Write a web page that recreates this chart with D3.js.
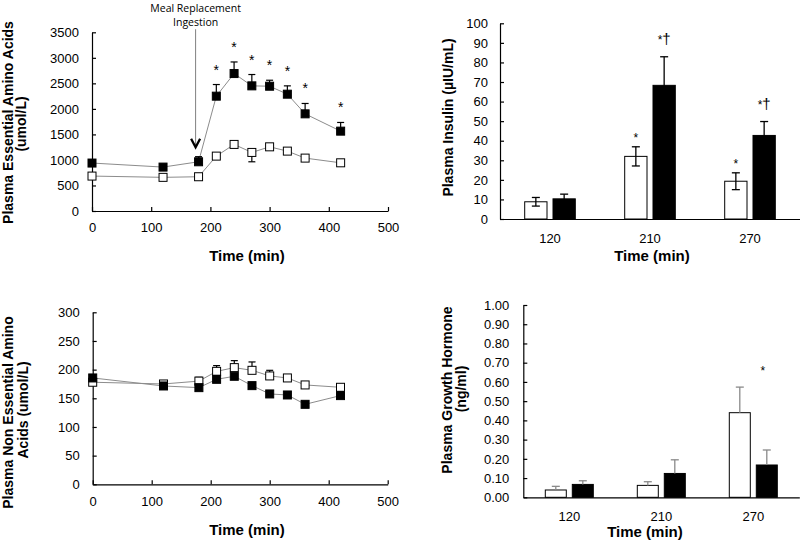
<!DOCTYPE html>
<html>
<head>
<meta charset="utf-8">
<script src="https://cdn.jsdelivr.net/npm/d3@7"></script>
<style>
  body { margin: 0; background: #fff; }
  svg text { font-family: "Liberation Sans", Arial, sans-serif; fill: #000; }
</style>
</head>
<body>
<svg id="chart" width="800" height="542"></svg>
<script>
// ---- data ----
const timePoints = [0, 120, 180, 210, 240, 270, 300, 330, 360, 420];
const timeTicks = [0, 100, 200, 300, 400, 500];

// essential amino acids (umol/L)
const eaaOpen = [684, 659, 671, 1075, 1304, 1147, 1257, 1173, 1036, 944];
const eaaOpenErr = [40, 40, 40, 50, 50, 183, 50, 40, 40, 40];
const eaaFilled = [939, 860, 964, 2249, 2692, 2451, 2444, 2288, 1903, 1564];
const eaaFilledErr = [60, 50, 100, 228, 227, 222, 117, 163, 203, 170];
const eaaSig = ['', '', '', '*', '*', '*', '*', '*', '*', '*'];
const eaaTicks = [0, 500, 1000, 1500, 2000, 2500, 3000, 3500];

// meal replacement arrow (time, value at tip, value at top)
const mealTime = 175;
const mealTip = 1250;
const mealTop = 3560;
const mealText = ['Meal Replacement', 'Ingestion'];

// non essential amino acids (umol/L)
const neaaOpen = [178, 175, 180, 197, 203.5, 198.8, 189, 185.5, 173.3, 169.2];
const neaaOpenErr = [3, 4, 6.6, 10, 12.2, 14.6, 9.8, 5, 4, 4];
const neaaFilled = [185.5, 171.5, 168.6, 183.1, 188.4, 172.1, 157.6, 155.8, 139.5, 154.7];
const neaaTicks = [0, 50, 100, 150, 200, 250, 300];

// bar panels
const barTimes = ['120', '210', '270'];
const insulinOpen = [8.8, 32.0, 19.3];
const insulinOpenErr = [2.2, 4.9, 4.3];
const insulinFilled = [10.3, 68.3, 42.7];
const insulinFilledErr = [2.4, 14.6, 7.1];
const insulinOpenSig = ['', '*', '*'];
const insulinFilledSig = ['', '*†', '*†'];
const insulinTicks = d3.range(0, 101, 10);

const ghOpen = [0.038, 0.062, 0.44];
const ghOpenErr = [0.019, 0.019, 0.133];
const ghFilled = [0.067, 0.124, 0.168];
const ghFilledErr = [0.019, 0.071, 0.078];
const ghSig = ['', '', '*'];
const ghTicks = d3.range(0, 1.001, 0.1);

const svg = d3.select('#chart');

const styleAxis = (sel) => {
  sel.attr('font-size', 13).attr('font-family', '"Liberation Sans", Arial, sans-serif');
  sel.select('.domain').attr('stroke', '#000').attr('stroke-width', 1.2);
  sel.selectAll('.tick line').attr('stroke', '#000').attr('stroke-width', 1.2);
  sel.selectAll('.tick text').attr('font-size', 13).attr('fill', '#000');
};

const xTitle = (text, cx, baseline) => {
  svg.append('text').attr('x', cx).attr('y', baseline).attr('text-anchor', 'middle')
    .attr('font-size', 15).attr('font-weight', 'bold').text(text);
};

const yTitle = (lines, baselines, centers) => {
  lines.forEach((t, i) => {
    svg.append('text')
      .attr('transform', `translate(${baselines[i]},${centers[i]}) rotate(-90)`)
      .attr('text-anchor', 'middle').attr('font-size', 14).attr('font-weight', 'bold')
      .text(t);
  });
};

const drawLinePanel = (o) => {
  const x = d3.scaleLinear().domain([0, 500]).range([o.left, o.right]);
  const y = d3.scaleLinear().domain([0, o.yMax]).range([o.bottom, o.top]);
  const g = svg.append('g');

  g.append('g').attr('transform', `translate(0,${o.bottom})`)
    .call(d3.axisBottom(x).tickValues(timeTicks).tickFormat(d3.format('d'))
      .tickSizeInner(-4).tickSizeOuter(0).tickPadding(12))
    .call(styleAxis);
  g.append('g').attr('transform', `translate(${o.left},0)`)
    .call(d3.axisLeft(y).tickValues(o.ticks).tickFormat(d3.format('d'))
      .tickSizeInner(-4).tickSizeOuter(0).tickPadding(13))
    .call(styleAxis);

  const line = d3.line().x((d, i) => x(timePoints[i])).y(d => y(d));
  const ms = 8;
  const cap = 3.5;

  for (const s of o.series) {
    g.append('path').datum(s.values).attr('fill', 'none')
      .attr('stroke', '#8c8c8c').attr('stroke-width', 1).attr('d', line);
  }
  for (const s of o.series) {
    if (s.err) {
      s.values.forEach((v, i) => {
        const end = s.dir === 'up' ? v + s.err[i] : v - s.err[i];
        const cx = x(timePoints[i]);
        g.append('line').attr('x1', cx).attr('x2', cx).attr('y1', y(v)).attr('y2', y(end))
          .attr('stroke', '#000').attr('stroke-width', 1.2);
        g.append('line').attr('x1', cx - cap).attr('x2', cx + cap).attr('y1', y(end)).attr('y2', y(end))
          .attr('stroke', '#000').attr('stroke-width', 1.2);
      });
    }
    g.selectAll(null).data(s.values).join('rect')
      .attr('x', (d, i) => x(timePoints[i]) - ms / 2)
      .attr('y', d => y(d) - ms / 2)
      .attr('width', ms).attr('height', ms)
      .attr('fill', s.fill).attr('stroke', '#000').attr('stroke-width', 1);
    if (s.sig) {
      s.values.forEach((v, i) => {
        if (!s.sig[i]) return;
        g.append('text').attr('x', x(timePoints[i])).attr('y', y(v + s.err[i]) - 10)
          .attr('text-anchor', 'middle').attr('font-size', 14).attr('fill', '#000').text(s.sig[i]);
      });
    }
  }
  return { x, y };
};

const drawBarPanel = (o) => {
  const x = d3.scaleBand().domain(barTimes).range([o.left, o.right]);
  const y = d3.scaleLinear().domain([0, o.yMax]).range([o.bottom, o.top]);
  const g = svg.append('g');
  const bw = o.barWidth;
  const gap = 6;
  const cap = 4;
  const series = [
    { values: o.open, err: o.openErr, fill: '#fff', sig: o.openSig, dx: -gap / 2 - bw },
    { values: o.filled, err: o.filledErr, fill: '#000', sig: o.filledSig, dx: gap / 2 },
  ];

  for (const s of series) {
    s.values.forEach((v, i) => {
      const bx = x(barTimes[i]) + x.bandwidth() / 2 + s.dx;
      const cx = bx + bw / 2;
      g.append('rect').attr('x', bx).attr('y', y(v)).attr('width', bw).attr('height', y(0) - y(v))
        .attr('fill', s.fill).attr('stroke', '#000').attr('stroke-width', 1);
      const top = v + s.err[i];
      const low = o.bothWays ? v - s.err[i] : v;
      g.append('line').attr('x1', cx).attr('x2', cx).attr('y1', y(low)).attr('y2', y(top))
        .attr('stroke', o.errColor).attr('stroke-width', 1.3);
      g.append('line').attr('x1', cx - cap).attr('x2', cx + cap).attr('y1', y(top)).attr('y2', y(top))
        .attr('stroke', o.errColor).attr('stroke-width', 1.3);
      if (o.bothWays) {
        g.append('line').attr('x1', cx - cap).attr('x2', cx + cap).attr('y1', y(low)).attr('y2', y(low))
          .attr('stroke', o.errColor).attr('stroke-width', 1.3);
      }
      const lab = s.sig ? s.sig[i] : '';
      if (lab) {
        let base;
        let lx = cx;
        if (o.groupSig) {
          base = y(Math.max(o.open[i] + o.openErr[i], o.filled[i] + o.filledErr[i])) - 12.5;
          lx = cx - 4;
        } else {
          base = y(top) - (lab.length > 1 ? 12.5 : 5);
        }
        const t = g.append('text').attr('x', lx).attr('y', base).attr('text-anchor', 'middle').attr('fill', '#000');
        t.append('tspan').attr('font-size', 12).attr('fill', '#000').text(lab[0]);
        if (lab.length > 1) t.append('tspan').attr('font-size', 15).attr('fill', '#000').text(lab.slice(1));
      }
    });
  }

  g.append('g').attr('transform', `translate(0,${o.bottom})`)
    .call(d3.axisBottom(x).tickSize(0).tickPadding(o.xPad))
    .call(styleAxis);
  g.append('g').attr('transform', `translate(${o.left},0)`)
    .call(d3.axisLeft(y).tickValues(o.ticks).tickFormat(o.fmt).tickSizeInner(-4).tickSizeOuter(0).tickPadding(o.yPad))
    .call(styleAxis);
};

// ---- top left: essential amino acids ----
const eaa = drawLinePanel({
  left: 92, right: 388, top: 32.3, bottom: 211, yMax: 3500, ticks: eaaTicks,
  series: [
    { values: eaaOpen, err: eaaOpenErr, dir: 'down', fill: '#fff' },
    { values: eaaFilled, err: eaaFilledErr, dir: 'up', fill: '#000', sig: eaaSig },
  ],
});
// meal replacement arrow
svg.append('line')
  .attr('x1', eaa.x(mealTime)).attr('x2', eaa.x(mealTime))
  .attr('y1', eaa.y(mealTop)).attr('y2', eaa.y(mealTip) - 2)
  .attr('stroke', '#808080').attr('stroke-width', 1);
svg.append('path')
  .attr('d', `M${eaa.x(mealTime) - 4.5},${eaa.y(mealTip) - 8.5} L${eaa.x(mealTime)},${eaa.y(mealTip)} L${eaa.x(mealTime) + 4.5},${eaa.y(mealTip) - 8.5}`)
  .attr('fill', 'none').attr('stroke', '#000').attr('stroke-width', 2.3);
mealText.forEach((t, i) => {
  svg.append('text').attr('x', eaa.x(mealTime)).attr('y', 12 + i * 13.5)
    .attr('text-anchor', 'middle').attr('font-size', 10.5)
    .style('font-family', '"Open Sans", sans-serif')
    .text(t);
});
xTitle('Time (min)', 247, 261);
yTitle(['Plasma Essential Amino Acids', '(umol/L)'], [12.5, 26], [122.5, 124]);

// ---- bottom left: non essential amino acids ----
drawLinePanel({
  left: 92.7, right: 387.7, top: 312.3, bottom: 484.3, yMax: 300, ticks: neaaTicks,
  series: [
    { values: neaaOpen, err: neaaOpenErr, dir: 'up', fill: '#fff' },
    { values: neaaFilled, fill: '#000' },
  ],
});
xTitle('Time (min)', 247, 535);
yTitle(['Plasma Non Essential Amino', 'Acids (umol/L)'], [13, 28], [412.5, 410]);

// ---- top right: insulin ----
drawBarPanel({
  left: 500, right: 800, top: 23.3, bottom: 219, yMax: 100, ticks: insulinTicks, fmt: d3.format('d'),
  open: insulinOpen, openErr: insulinOpenErr, filled: insulinFilled, filledErr: insulinFilledErr,
  openSig: insulinOpenSig, filledSig: insulinFilledSig,
  barWidth: 22.3, errColor: '#000', bothWays: true, xPad: 15, yPad: 12,
});
xTitle('Time (min)', 652, 261);
yTitle(['Plasma Insulin (µIU/mL)'], [452.5], [117.5]);

// ---- bottom right: growth hormone ----
drawBarPanel({
  left: 523.3, right: 799.3, top: 305, bottom: 497.3, yMax: 1, ticks: ghTicks, fmt: d3.format('.2f'),
  open: ghOpen, openErr: ghOpenErr, filled: ghFilled, filledErr: ghFilledErr,
  filledSig: ghSig, groupSig: true,
  barWidth: 21, errColor: '#8a8a8a', bothWays: false, xPad: 14, yPad: 14,
});
xTitle('Time (min)', 645, 537);
yTitle(['Plasma Growth Hormone', '(ng/ml)'], [451.5, 465.5], [390, 389]);
</script>
</body>
</html>
